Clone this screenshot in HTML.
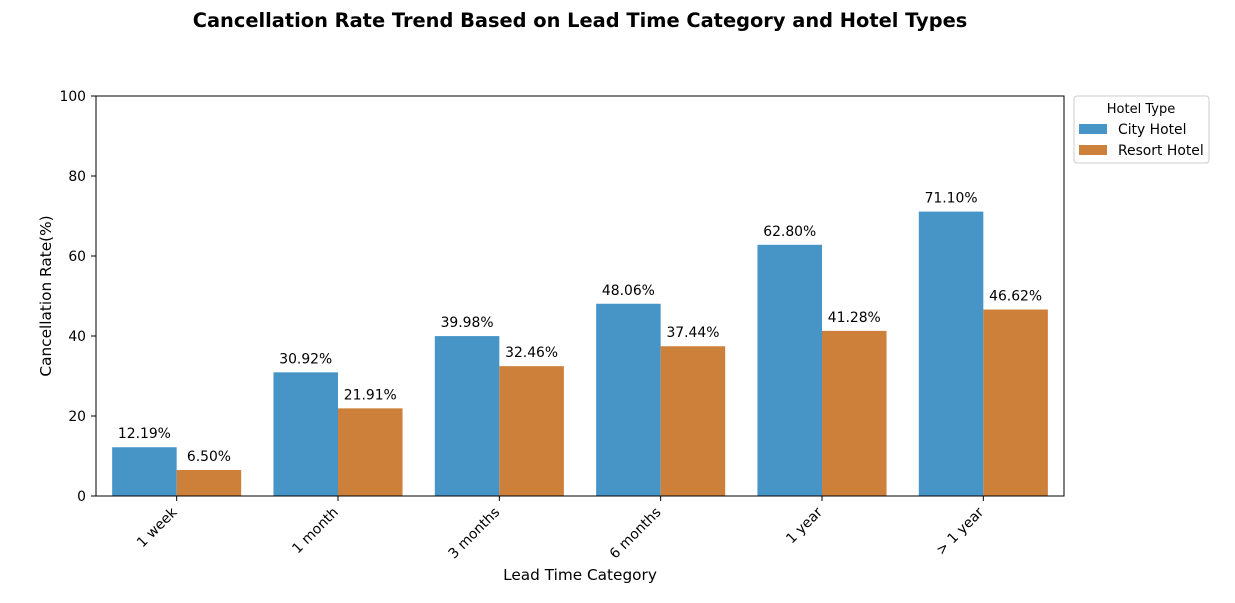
<!DOCTYPE html>
<html><head><meta charset="utf-8"><style>
body{margin:0;background:#fff;font-family:"DejaVu Sans",sans-serif;}
</style></head><body>
<svg id="chart" width="1235" height="599" xmlns="http://www.w3.org/2000/svg" font-family="DejaVu Sans, sans-serif">
<text x="580" y="27" text-anchor="middle" font-size="19.4" font-weight="bold">Cancellation Rate Trend Based on Lead Time Category and Hotel Types</text>
<g id="plot"></g>
<rect x="96" y="96" width="968" height="400" fill="none" stroke="#000" stroke-width="1"/>
<text x="580" y="580" text-anchor="middle" font-size="15.3">Lead Time Category</text>
<text x="51" y="296" text-anchor="middle" font-size="15.3" transform="rotate(-90 51 296)">Cancellation Rate(%)</text>
<g>
<rect x="1074" y="96" width="135" height="67" fill="#fff" stroke="#ccc" rx="3"/>
<text x="1141" y="113" text-anchor="middle" font-size="13">Hotel Type</text>
<rect x="1079" y="124" width="28" height="10" fill="#4795c7"/>
<text x="1118" y="134" font-size="13.9">City Hotel</text>
<rect x="1079" y="145" width="28" height="10" fill="#cd803a"/>
<text x="1118" y="155" font-size="13.9">Resort Hotel</text>
</g>
</svg>
<script>
const categories=["1 week","1 month","3 months","6 months","1 year","> 1 year"];
const cityValues=[12.19,30.92,39.98,48.06,62.80,71.10];
const resortValues=[6.50,21.91,32.46,37.44,41.28,46.62];
const yTicks=[0,20,40,60,80,100];
const NS="http://www.w3.org/2000/svg";
const g=document.getElementById('plot');
const x0=96,w=968,yBase=496,h=400,step=w/categories.length,bw=step*0.4;
const y=v=>yBase-v/100*h;
const xc=i=>x0+step*(i+0.5);
function el(t,a){const e=document.createElementNS(NS,t);for(const k in a)e.setAttribute(k,a[k]);g.appendChild(e);return e;}
yTicks.forEach(t=>{
 const l=el('line',{x1:91,x2:96,y1:y(t),y2:y(t),stroke:'#000'});
 
 
 const tx=el('text',{x:86,y:y(t)+5,'text-anchor':'end','font-size':13.9});
 tx.textContent=t;
 
 
});
categories.forEach((c,i)=>{
 const cx=xc(i);
 const l=el('line',{x1:cx,x2:cx,y1:496,y2:501,stroke:'#000'});
 
 
 const tx=el('text',{x:cx+1,y:513,'text-anchor':'end','font-size':13.9,transform:`rotate(-45 ${cx+1} 513)`});
 tx.textContent=c;
 
 
 [[cityValues[i],cx-bw,'#4795c7','city'],[resortValues[i],cx,'#cd803a','resort']].forEach(([v,bx,col,n])=>{
  const r=el('rect',{x:bx,y:y(v),width:bw,height:yBase-y(v),fill:col});
  
  
  const lb=el('text',{x:bx+bw/2,y:y(v)-9,'text-anchor':'middle','font-size':13.9});
  lb.textContent=v.toFixed(2)+'%';
  
  
 });
});
</script>
</body></html>
